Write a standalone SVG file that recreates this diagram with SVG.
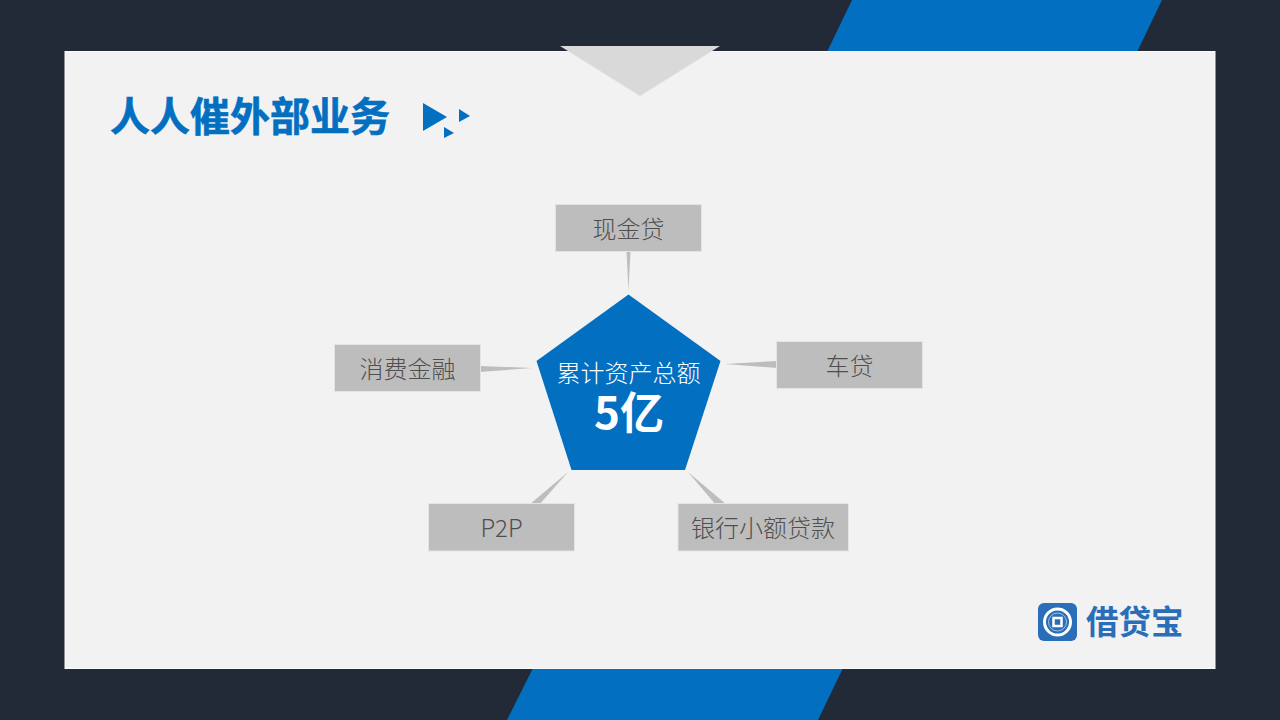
<svg xmlns="http://www.w3.org/2000/svg" width="1280" height="720" viewBox="0 0 1280 720">
<style>
text{font-family:"Noto Sans CJK SC","Noto Sans",sans-serif}
.blue{fill:#026fc1}
.box{fill:#bdbdbd;stroke:#e4e4e4;stroke-width:1}
.lbl{font-size:24px;fill:#4f4f4f;text-anchor:middle;font-weight:300}
.conn{fill:#bdbdbd}
</style>
<rect width="1280" height="720" fill="#222a37"/>
<polygon class="blue" points="852,0 1162,0 1137,52 827,52"/>
<polygon class="blue" points="533,668 843,668 818,720 507,720"/>
<rect x="65" y="51.500" width="1150" height="617" fill="#f2f2f2" stroke="#fafafa" stroke-width="1"/>
<polygon points="560,46 720,46 640,96" fill="#d9d9d9"/>
<g id="title">
<text x="110" y="131" font-size="40" font-weight="700" fill="#026fc1" stroke="#026fc1" stroke-width="0.600">人人催外部业务</text>
<polygon class="blue" points="423,103 447,117 423,131"/>
<polygon class="blue" points="459,109 470,116 459,122"/>
<polygon class="blue" points="444,127 454,133 444,138"/>
</g>
<g id="connectors">
<polygon class="conn" points="626.500,251 630.500,251 628.500,291"/>
<polygon class="conn" points="777,361 777,368 725,364"/>
<polygon class="conn" points="480,366 480,372 532,368"/>
<polygon class="conn" points="529,505 539,505 568,472"/>
<polygon class="conn" points="716,505 727,505 688,472"/>
</g>
<g id="center">
<polygon class="blue" points="628.500,294.500 720.500,361 685,470 571.500,470 536.500,361"/>
<text x="628.500" y="381.500" font-size="24" fill="#fff" text-anchor="middle" font-weight="300">累计资产总额</text>
<text x="629" y="429" font-size="44" fill="#fff" text-anchor="middle" font-weight="700">5亿</text>
</g>
<g id="node-xianjindai"><rect class="box" x="555.500" y="204.500" width="146" height="47"/><text class="lbl" x="628.500" y="238">现金贷</text></g>
<g id="node-chedai"><rect class="box" x="776.500" y="341.500" width="146" height="47"/><text class="lbl" x="849.500" y="375">车贷</text></g>
<g id="node-xiaofei"><rect class="box" x="334.500" y="344.500" width="146" height="47"/><text class="lbl" x="407.500" y="378">消费金融</text></g>
<g id="node-p2p"><rect class="box" x="428.500" y="503.500" width="146" height="47.500"/><text class="lbl" x="501.500" y="537" font-size="23">P2P</text></g>
<g id="node-bank"><rect class="box" x="678" y="503.500" width="170.500" height="47.500"/><text class="lbl" x="763" y="537">银行小额贷款</text></g>
<g id="logo">
<rect x="1038" y="603" width="39" height="38" rx="6" fill="#2a6db8"/>
<circle cx="1057.500" cy="622" r="13" fill="none" stroke="#fff" stroke-width="3"/>
<circle cx="1057.500" cy="622" r="9" fill="none" stroke="#9fc3e6" stroke-width="1"/>
<rect x="1053.500" y="618" width="8" height="8" fill="none" stroke="#fff" stroke-width="2.500"/>
<text x="1086" y="634" font-size="32.500" font-weight="700" fill="#2a6db8">借贷宝</text>
</g>
</svg>
